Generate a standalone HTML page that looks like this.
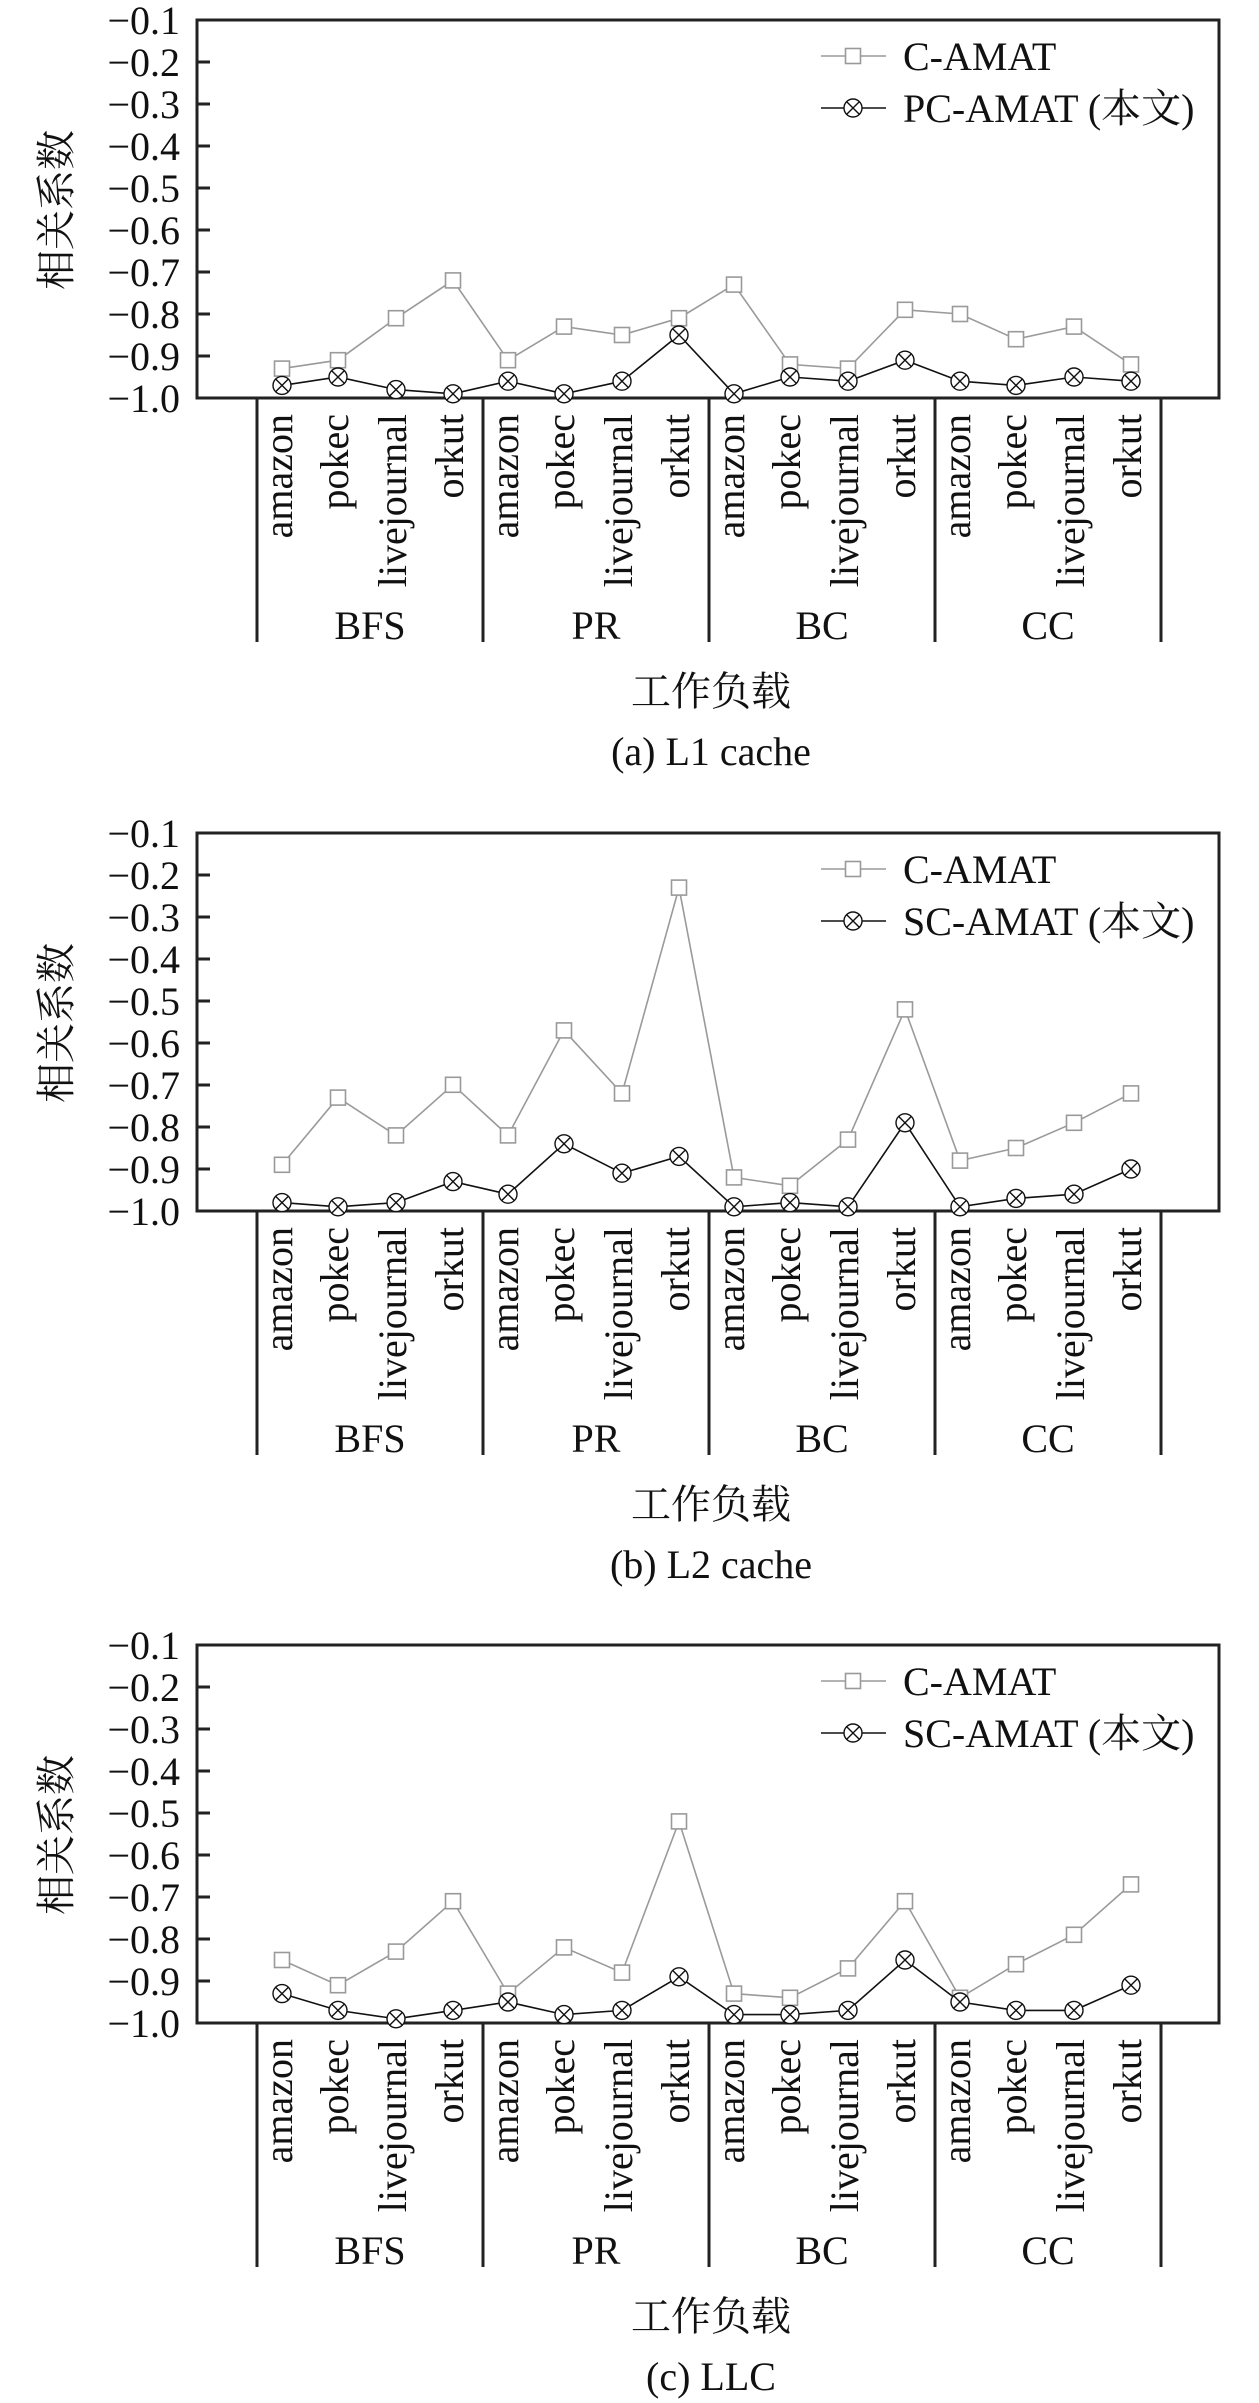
<!DOCTYPE html>
<html><head><meta charset="utf-8"><style>
html,body{margin:0;padding:0;background:#fff;}
svg{display:block;}
text{font-family:"Liberation Serif","Noto Serif CJK SC",serif;font-size:40px;fill:#111;}
.cjk{font-family:"Liberation Serif","Noto Serif CJK SC","Noto Sans CJK SC",serif;}
.g{fill:none;stroke:#9a9a9a;stroke-width:1.6;}
.k{fill:none;stroke:#111;stroke-width:1.6;}
</style></head><body>
<svg width="1259" height="2403" viewBox="0 0 1259 2403" xmlns="http://www.w3.org/2000/svg">
<defs>
<g id="sq"><rect x="-7.5" y="-7.5" width="15" height="15" fill="#fff" stroke="#9a9a9a" stroke-width="1.6"/></g>
<g id="cx"><circle r="9" fill="#fff" stroke="#111" stroke-width="1.4"/><path d="M-6.4,-6.4L6.4,6.4M-6.4,6.4L6.4,-6.4" stroke="#111" stroke-width="1.4"/></g>
<g id="frame">
<rect x="197" y="20" width="1022" height="378" fill="none" stroke="#222" stroke-width="3"/>
<path d="M197,62H210M197,104H210M197,146H210M197,188H210M197,230H210M197,272H210M197,314H210M197,356H210" stroke="#222" stroke-width="3"/>
<path d="M257,398V642M483,398V642M709,398V642M935,398V642M1161,398V642" stroke="#222" stroke-width="3"/>
</g>
</defs>

<!-- ===== Panel (a) ===== -->
<g>
<use href="#frame"/>
<g text-anchor="end">
<text x="180" y="34">−0.1</text><text x="180" y="76">−0.2</text><text x="180" y="118">−0.3</text>
<text x="180" y="160">−0.4</text><text x="180" y="202">−0.5</text><text x="180" y="244">−0.6</text>
<text x="180" y="286">−0.7</text><text x="180" y="328">−0.8</text><text x="180" y="370">−0.9</text>
<text x="180" y="412">−1.0</text>
</g>
<text class="cjk" transform="translate(70,210) rotate(-90)" text-anchor="middle">相关系数</text>
<g text-anchor="end">
<text transform="translate(292,414) rotate(-90)">amazon</text><text transform="translate(348,414) rotate(-90)">pokec</text><text transform="translate(406,414) rotate(-90)">livejournal</text><text transform="translate(463,414) rotate(-90)">orkut</text>
<text transform="translate(518,414) rotate(-90)">amazon</text><text transform="translate(574,414) rotate(-90)">pokec</text><text transform="translate(632,414) rotate(-90)">livejournal</text><text transform="translate(689,414) rotate(-90)">orkut</text>
<text transform="translate(744,414) rotate(-90)">amazon</text><text transform="translate(800,414) rotate(-90)">pokec</text><text transform="translate(858,414) rotate(-90)">livejournal</text><text transform="translate(915,414) rotate(-90)">orkut</text>
<text transform="translate(970,414) rotate(-90)">amazon</text><text transform="translate(1026,414) rotate(-90)">pokec</text><text transform="translate(1084,414) rotate(-90)">livejournal</text><text transform="translate(1141,414) rotate(-90)">orkut</text>
</g>
<g text-anchor="middle">
<text x="370" y="639">BFS</text><text x="596" y="639">PR</text><text x="822" y="639">BC</text><text x="1048" y="639">CC</text>
<text class="cjk" x="711" y="705">工作负载</text>
<text x="711" y="765">(a)  L1 cache</text>
</g>
<path class="g" d="M821,56H886"/><use href="#sq" x="853" y="56"/><text x="903" y="70">C-AMAT</text>
<path class="k" d="M821,108H886"/><use href="#cx" x="853" y="108"/><text class="cjk" x="903" y="122">PC-AMAT (本文)</text>
<polyline class="g" points="282,368.6 338,360.2 396,318.2 453,280.4 508,360.2 564,326.6 622,335 679,318.2 734,284.6 790,364.4 848,368.6 905,309.8 960,314 1016,339.2 1074,326.6 1131,364.4"/>
<use href="#sq" x="282" y="368.6"/><use href="#sq" x="338" y="360.2"/><use href="#sq" x="396" y="318.2"/><use href="#sq" x="453" y="280.4"/>
<use href="#sq" x="508" y="360.2"/><use href="#sq" x="564" y="326.6"/><use href="#sq" x="622" y="335"/><use href="#sq" x="679" y="318.2"/>
<use href="#sq" x="734" y="284.6"/><use href="#sq" x="790" y="364.4"/><use href="#sq" x="848" y="368.6"/><use href="#sq" x="905" y="309.8"/>
<use href="#sq" x="960" y="314"/><use href="#sq" x="1016" y="339.2"/><use href="#sq" x="1074" y="326.6"/><use href="#sq" x="1131" y="364.4"/>
<polyline class="k" points="282,385.4 338,377 396,389.6 453,393.8 508,381.2 564,393.8 622,381.2 679,335 734,393.8 790,377 848,381.2 905,360.2 960,381.2 1016,385.4 1074,377 1131,381.2"/>
<use href="#cx" x="282" y="385.4"/><use href="#cx" x="338" y="377"/><use href="#cx" x="396" y="389.6"/><use href="#cx" x="453" y="393.8"/>
<use href="#cx" x="508" y="381.2"/><use href="#cx" x="564" y="393.8"/><use href="#cx" x="622" y="381.2"/><use href="#cx" x="679" y="335"/>
<use href="#cx" x="734" y="393.8"/><use href="#cx" x="790" y="377"/><use href="#cx" x="848" y="381.2"/><use href="#cx" x="905" y="360.2"/>
<use href="#cx" x="960" y="381.2"/><use href="#cx" x="1016" y="385.4"/><use href="#cx" x="1074" y="377"/><use href="#cx" x="1131" y="381.2"/>
</g>

<!-- ===== Panel (b) ===== -->
<g transform="translate(0,813)">
<use href="#frame"/>
<g text-anchor="end">
<text x="180" y="34">−0.1</text><text x="180" y="76">−0.2</text><text x="180" y="118">−0.3</text>
<text x="180" y="160">−0.4</text><text x="180" y="202">−0.5</text><text x="180" y="244">−0.6</text>
<text x="180" y="286">−0.7</text><text x="180" y="328">−0.8</text><text x="180" y="370">−0.9</text>
<text x="180" y="412">−1.0</text>
</g>
<text class="cjk" transform="translate(70,210) rotate(-90)" text-anchor="middle">相关系数</text>
<g text-anchor="end">
<text transform="translate(292,414) rotate(-90)">amazon</text><text transform="translate(348,414) rotate(-90)">pokec</text><text transform="translate(406,414) rotate(-90)">livejournal</text><text transform="translate(463,414) rotate(-90)">orkut</text>
<text transform="translate(518,414) rotate(-90)">amazon</text><text transform="translate(574,414) rotate(-90)">pokec</text><text transform="translate(632,414) rotate(-90)">livejournal</text><text transform="translate(689,414) rotate(-90)">orkut</text>
<text transform="translate(744,414) rotate(-90)">amazon</text><text transform="translate(800,414) rotate(-90)">pokec</text><text transform="translate(858,414) rotate(-90)">livejournal</text><text transform="translate(915,414) rotate(-90)">orkut</text>
<text transform="translate(970,414) rotate(-90)">amazon</text><text transform="translate(1026,414) rotate(-90)">pokec</text><text transform="translate(1084,414) rotate(-90)">livejournal</text><text transform="translate(1141,414) rotate(-90)">orkut</text>
</g>
<g text-anchor="middle">
<text x="370" y="639">BFS</text><text x="596" y="639">PR</text><text x="822" y="639">BC</text><text x="1048" y="639">CC</text>
<text class="cjk" x="711" y="705">工作负载</text>
<text x="711" y="765">(b)  L2 cache</text>
</g>
<path class="g" d="M821,56H886"/><use href="#sq" x="853" y="56"/><text x="903" y="70">C-AMAT</text>
<path class="k" d="M821,108H886"/><use href="#cx" x="853" y="108"/><text class="cjk" x="903" y="122">SC-AMAT (本文)</text>
<polyline class="g" points="282,351.8 338,284.6 396,322.4 453,271.8 508,322.4 564,217.4 622,280.4 679,74.6 734,364.4 790,372.8 848,326.6 905,196.4 960,347.6 1016,335 1074,309.8 1131,280.4"/>
<use href="#sq" x="282" y="351.8"/><use href="#sq" x="338" y="284.6"/><use href="#sq" x="396" y="322.4"/><use href="#sq" x="453" y="271.8"/>
<use href="#sq" x="508" y="322.4"/><use href="#sq" x="564" y="217.4"/><use href="#sq" x="622" y="280.4"/><use href="#sq" x="679" y="74.6"/>
<use href="#sq" x="734" y="364.4"/><use href="#sq" x="790" y="372.8"/><use href="#sq" x="848" y="326.6"/><use href="#sq" x="905" y="196.4"/>
<use href="#sq" x="960" y="347.6"/><use href="#sq" x="1016" y="335"/><use href="#sq" x="1074" y="309.8"/><use href="#sq" x="1131" y="280.4"/>
<polyline class="k" points="282,389.6 338,393.8 396,389.6 453,368.6 508,381.2 564,330.8 622,360.2 679,343.4 734,393.8 790,389.6 848,393.8 905,309.8 960,393.8 1016,385.4 1074,381.2 1131,356"/>
<use href="#cx" x="282" y="389.6"/><use href="#cx" x="338" y="393.8"/><use href="#cx" x="396" y="389.6"/><use href="#cx" x="453" y="368.6"/>
<use href="#cx" x="508" y="381.2"/><use href="#cx" x="564" y="330.8"/><use href="#cx" x="622" y="360.2"/><use href="#cx" x="679" y="343.4"/>
<use href="#cx" x="734" y="393.8"/><use href="#cx" x="790" y="389.6"/><use href="#cx" x="848" y="393.8"/><use href="#cx" x="905" y="309.8"/>
<use href="#cx" x="960" y="393.8"/><use href="#cx" x="1016" y="385.4"/><use href="#cx" x="1074" y="381.2"/><use href="#cx" x="1131" y="356"/>
</g>

<!-- ===== Panel (c) ===== -->
<g transform="translate(0,1625)">
<use href="#frame"/>
<g text-anchor="end">
<text x="180" y="34">−0.1</text><text x="180" y="76">−0.2</text><text x="180" y="118">−0.3</text>
<text x="180" y="160">−0.4</text><text x="180" y="202">−0.5</text><text x="180" y="244">−0.6</text>
<text x="180" y="286">−0.7</text><text x="180" y="328">−0.8</text><text x="180" y="370">−0.9</text>
<text x="180" y="412">−1.0</text>
</g>
<text class="cjk" transform="translate(70,210) rotate(-90)" text-anchor="middle">相关系数</text>
<g text-anchor="end">
<text transform="translate(292,414) rotate(-90)">amazon</text><text transform="translate(348,414) rotate(-90)">pokec</text><text transform="translate(406,414) rotate(-90)">livejournal</text><text transform="translate(463,414) rotate(-90)">orkut</text>
<text transform="translate(518,414) rotate(-90)">amazon</text><text transform="translate(574,414) rotate(-90)">pokec</text><text transform="translate(632,414) rotate(-90)">livejournal</text><text transform="translate(689,414) rotate(-90)">orkut</text>
<text transform="translate(744,414) rotate(-90)">amazon</text><text transform="translate(800,414) rotate(-90)">pokec</text><text transform="translate(858,414) rotate(-90)">livejournal</text><text transform="translate(915,414) rotate(-90)">orkut</text>
<text transform="translate(970,414) rotate(-90)">amazon</text><text transform="translate(1026,414) rotate(-90)">pokec</text><text transform="translate(1084,414) rotate(-90)">livejournal</text><text transform="translate(1141,414) rotate(-90)">orkut</text>
</g>
<g text-anchor="middle">
<text x="370" y="639">BFS</text><text x="596" y="639">PR</text><text x="822" y="639">BC</text><text x="1048" y="639">CC</text>
<text class="cjk" x="711" y="705">工作负载</text>
<text x="711" y="765">(c)  LLC</text>
</g>
<path class="g" d="M821,56H886"/><use href="#sq" x="853" y="56"/><text x="903" y="70">C-AMAT</text>
<path class="k" d="M821,108H886"/><use href="#cx" x="853" y="108"/><text class="cjk" x="903" y="122">SC-AMAT (本文)</text>
<polyline class="g" points="282,335 338,360.2 396,326.6 453,276.2 508,368.6 564,322.4 622,347.6 679,196.4 734,368.6 790,372.8 848,343.4 905,276.2 960,372.8 1016,339.2 1074,309.8 1131,259.4"/>
<use href="#sq" x="282" y="335"/><use href="#sq" x="338" y="360.2"/><use href="#sq" x="396" y="326.6"/><use href="#sq" x="453" y="276.2"/>
<use href="#sq" x="508" y="368.6"/><use href="#sq" x="564" y="322.4"/><use href="#sq" x="622" y="347.6"/><use href="#sq" x="679" y="196.4"/>
<use href="#sq" x="734" y="368.6"/><use href="#sq" x="790" y="372.8"/><use href="#sq" x="848" y="343.4"/><use href="#sq" x="905" y="276.2"/>
<use href="#sq" x="960" y="372.8"/><use href="#sq" x="1016" y="339.2"/><use href="#sq" x="1074" y="309.8"/><use href="#sq" x="1131" y="259.4"/>
<polyline class="k" points="282,368.6 338,385.4 396,393.8 453,385.4 508,377 564,389.6 622,385.4 679,351.8 734,389.6 790,389.6 848,385.4 905,335 960,377 1016,385.4 1074,385.4 1131,360.2"/>
<use href="#cx" x="282" y="368.6"/><use href="#cx" x="338" y="385.4"/><use href="#cx" x="396" y="393.8"/><use href="#cx" x="453" y="385.4"/>
<use href="#cx" x="508" y="377"/><use href="#cx" x="564" y="389.6"/><use href="#cx" x="622" y="385.4"/><use href="#cx" x="679" y="351.8"/>
<use href="#cx" x="734" y="389.6"/><use href="#cx" x="790" y="389.6"/><use href="#cx" x="848" y="385.4"/><use href="#cx" x="905" y="335"/>
<use href="#cx" x="960" y="377"/><use href="#cx" x="1016" y="385.4"/><use href="#cx" x="1074" y="385.4"/><use href="#cx" x="1131" y="360.2"/>
</g>
</svg>
</body></html>
